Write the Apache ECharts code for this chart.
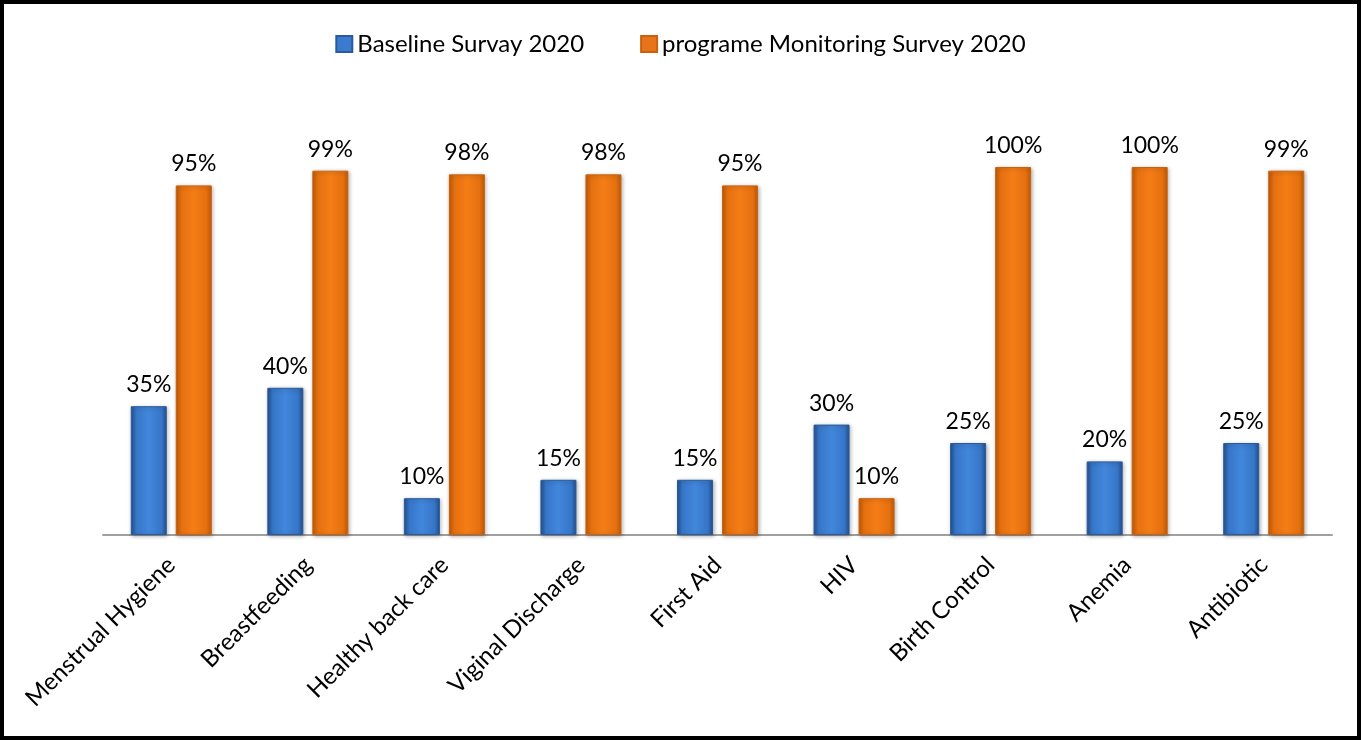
<!DOCTYPE html>
<html><head><meta charset="utf-8">
<script src="https://cdn.jsdelivr.net/npm/echarts@6/dist/echarts.min.js"></script>
<style>
html,body{margin:0;padding:0;background:#fff;}
#c{width:1361px;height:740px;box-sizing:border-box;border:4px solid #000;}
</style></head>
<body><div id="c"></div>
<script>
const categories = ['Menstrual Hygiene','Breastfeeding','Healthy back care','Viginal Discharge','First Aid','HIV','Birth Control','Anemia','Antibiotic'];
const baseline = [35,40,10,15,15,30,25,20,25];
const monitoring = [95,99,98,98,95,10,100,100,99];
const seriesNames = ['Baseline Survay 2020','programe Monitoring Survey 2020'];

const FONT = 'Lato, "Open Sans", sans-serif';
function grad(edge, mid, light){
  return new echarts.graphic.LinearGradient(0,0,1,0,[
    {offset:0,color:edge},{offset:0.15,color:mid},{offset:0.5,color:light},{offset:0.85,color:mid},{offset:1,color:edge}
  ]);
}
const blue = grad('#24508c','#3776c8','#4187dc');
const orange = grad('#c25a08','#e5700f','#f57d17');

const chart = echarts.init(document.getElementById('c'), null, {renderer:'canvas'});
const labelCfg = {show:true, position:'top', distance:10, formatter:'{c}%', fontSize:23, color:'#000', fontFamily:FONT};
chart.setOption({
  animation:false,
  textStyle:{fontFamily:FONT},
  legend:{
    top:23, left:'center', itemWidth:16, itemHeight:16, itemGap:56,
    icon:'rect',
    textStyle:{fontSize:24, color:'#000', fontFamily:FONT},
    data:[{name:seriesNames[0], itemStyle:{color:'#3a7bd0'}},{name:seriesNames[1], itemStyle:{color:'#e8741a'}}]
  },
  grid:{left:99, right:25, top:163, bottom:201, containLabel:false},
  xAxis:{
    type:'category', data:categories,
    axisLine:{lineStyle:{color:'#a0a0a0', width:2}},
    axisTick:{show:false},
    axisLabel:{rotate:45, fontSize:24, color:'#000', fontFamily:FONT, margin:26, interval:0}
  },
  yAxis:{type:'value', min:0, max:100, show:false, splitLine:{show:false}},
  series:[
    {name:seriesNames[0], type:'bar', data:baseline, barWidth:36, barGap:'25%',
     itemStyle:{color:blue, borderColor:'#2a5a9c', borderWidth:1, shadowColor:'rgba(0,0,0,0.3)', shadowBlur:4, shadowOffsetX:1, shadowOffsetY:1},
     label:labelCfg},
    {name:seriesNames[1], type:'bar', data:monitoring, barWidth:36,
     itemStyle:{color:orange, borderColor:'#c9620e', borderWidth:1, shadowColor:'rgba(0,0,0,0.3)', shadowBlur:4, shadowOffsetX:1, shadowOffsetY:1},
     label:labelCfg}
  ]
});
</script></body></html>
